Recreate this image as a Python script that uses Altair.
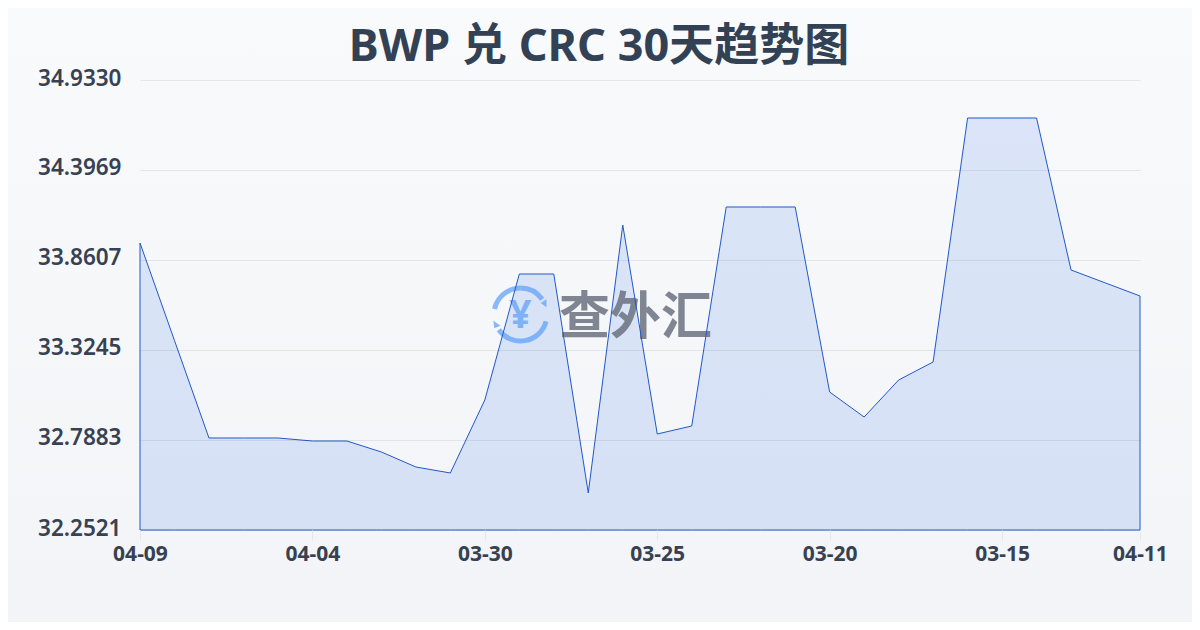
import json
import math
import altair as alt
import pandas as pd

TITLE = "BWP 兑 CRC 30天趋势图"
DATES = ["04-09", "04-08", "04-07", "04-06", "04-05", "04-04", "04-03", "04-02", "04-01", "03-31",
         "03-30", "03-29", "03-28", "03-27", "03-26", "03-25", "03-24", "03-23", "03-22", "03-21",
         "03-20", "03-19", "03-18", "03-17", "03-16", "03-15", "03-14", "03-13", "03-12", "04-11"]
VALUES = [33.9619, 33.3811, 32.8002, 32.8002, 32.8002, 32.7823, 32.7823, 32.7168, 32.6274, 32.5917,
          33.0266, 33.7772, 33.7772, 32.4725, 34.0691, 32.8240, 32.8717, 34.1764, 34.1764, 34.1764,
          33.0742, 32.9253, 33.1457, 33.2530, 34.7066, 34.7066, 34.7066, 33.8011, 33.7236, 33.6462]
Y_TICKS = [32.2521, 32.7883, 33.3245, 33.8607, 34.3969, 34.9330]
X_TICK_INDEX = [0, 5, 10, 15, 20, 25, 29]

df = pd.DataFrame({"i": list(range(len(DATES))), "date": DATES, "rate": VALUES})
one = pd.DataFrame({"a": [0]})

W, H = 1000, 450
PAD = {"left": 132, "top": 72, "right": 52, "bottom": 92}

bg = alt.Chart(one).mark_rect(
    fill=alt.LinearGradient(
        gradient="linear", x1=0, y1=0, x2=0, y2=1,
        stops=[alt.GradientStop(offset=0, color="#f8fafc"), alt.GradientStop(offset=1, color="#f2f4f7")],
    )
).encode(x=alt.value(-132), x2=alt.value(1052), y=alt.value(-72), y2=alt.value(542))

# watermark, centre in plot coordinates
CX, CY = 380.5, 234.5
LOGO = "#5a9cf8"
def arc(a, b):
    return alt.Chart(one).mark_arc(
        radius=29, radius2=24, theta=math.radians(a), theta2=math.radians(b), fill=LOGO, opacity=0.7
    ).encode(x=alt.value(CX), y=alt.value(CY))

arcs = [arc(282, 360), arc(0, 55), arc(105, 235)]
arrow_r = alt.Chart(one).mark_point(shape="M-0.42,0L0.31,-0.46L0.31,0.52Z", size=256, filled=True, fill=LOGO,
                                    opacity=0.7, strokeWidth=0).encode(
    x=alt.value(CX + 23.5), y=alt.value(CY - 11.5))
arrow_l = alt.Chart(one).mark_point(shape="M-0.33,-0.52L0.56,0.1L-0.21,0.42Z", size=256, filled=True, fill=LOGO,
                                    opacity=0.7, strokeWidth=0).encode(
    x=alt.value(CX - 24.5), y=alt.value(CY + 10.5))
yen = alt.Chart(one).mark_text(text="¥", font="Noto Sans", fontWeight="bold", fontSize=39, fill=LOGO, opacity=0.7,
                               align="center", baseline="middle").encode(x=alt.value(CX), y=alt.value(CY + 1))
wm = alt.Chart(one).mark_text(text="查外汇", font="Noto Sans CJK SC", fontWeight="bold", fontSize=51,
                              fill="#6b7280", opacity=0.85, align="left", baseline="middle").encode(
    x=alt.value(419), y=alt.value(239))

x = alt.X("i:Q", scale=alt.Scale(domain=[0, len(DATES) - 1], nice=False, zero=False), title=None,
          axis=alt.Axis(values=X_TICK_INDEX, labelExpr=f"{json.dumps(DATES)}[datum.value]",
                        labelAngle=0, labelFont="Noto Sans", labelFontSize=21, labelFontWeight="bold",
                        labelColor="#374151", labelPadding=3, tickColor="#e5e7eb", tickSize=10, tickWidth=1,
                        domain=False, grid=False, labelFlush=False, labelOverlap=False, zindex=1))
y = alt.Y("rate:Q", scale=alt.Scale(domain=[Y_TICKS[0], Y_TICKS[-1]], nice=False, zero=False), title=None,
          axis=alt.Axis(values=Y_TICKS, format=".4f", labelFont="Noto Sans", labelFontSize=22.5, labelFontWeight=600,
                        labelColor="#374151", labelPadding=19, labelOffset=-2, ticks=False, domain=False,
                        grid=True, gridColor="#1f2937", gridOpacity=0.085, gridWidth=1, labelOverlap=False,
                        labelFlush=False, zindex=1))
y2 = alt.datum(Y_TICKS[0])

area_fill = alt.Chart(df).mark_area(
    fill="#2563eb", fillOpacity=0.135, interpolate="linear",
).encode(x=x, y=y, y2=y2)
area_line = alt.Chart(df).mark_area(
    fill="transparent", stroke="#2158c8", strokeWidth=1, interpolate="linear",
).encode(x=x, y=y, y2=y2)

chart = alt.layer(bg, area_fill, *arcs, arrow_r, arrow_l, yen, wm, area_line).properties(
    width=W, height=H, padding=PAD, autosize=alt.AutoSizeParams(type="none"),
    title=alt.TitleParams(TITLE, font="Noto Sans, Noto Sans CJK SC", fontSize=45, fontWeight="bold", color="#334155",
                          anchor="middle", frame="group", dx=-41, offset=-62),
).configure_view(stroke=None)

chart.save("out.html", embed_options={"renderer": "svg", "actions": False})
